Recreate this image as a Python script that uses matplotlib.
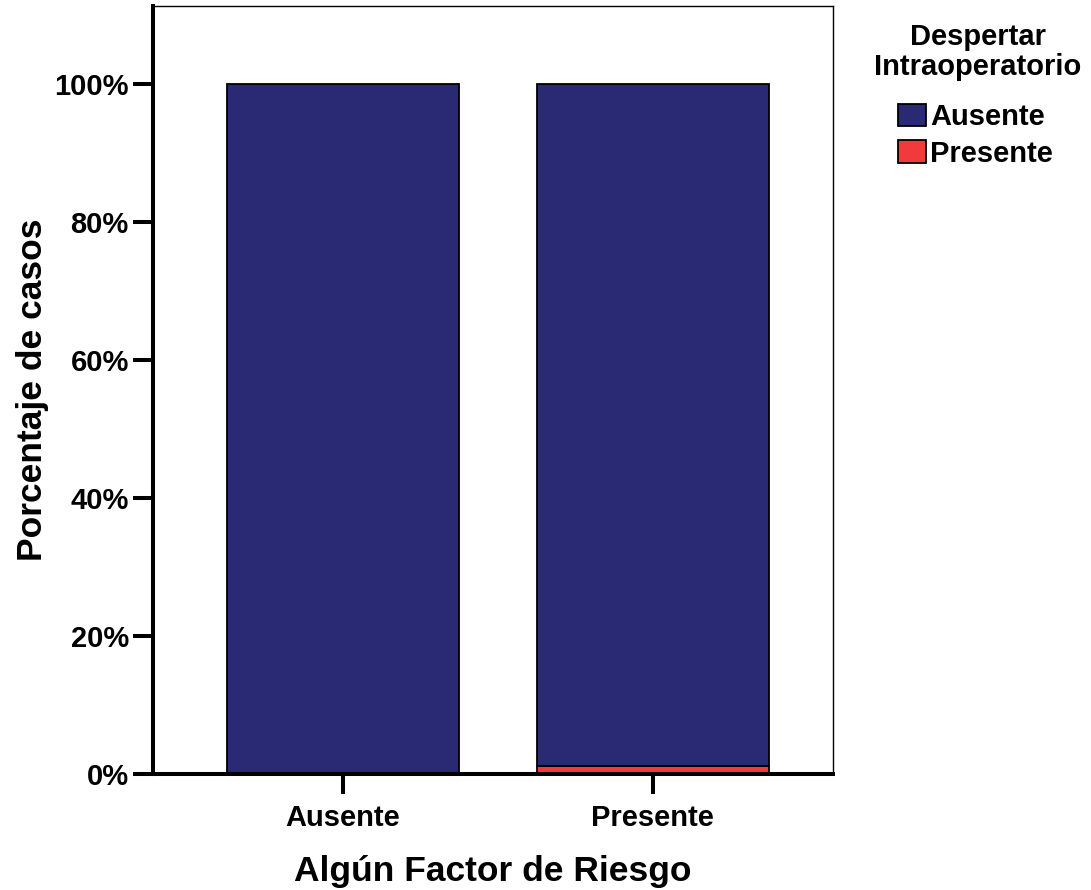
import matplotlib
matplotlib.use("Agg")
import matplotlib.pyplot as plt
import numpy as np

categories = ["Ausente", "Presente"]
ausente_pct = [100.0, 98.8]
presente_pct = [0.0, 1.2]
yticks = [0, 20, 40, 60, 80, 100]
ytick_labels = ["0%", "20%", "40%", "60%", "80%", "100%"]

navy = "#292A73"
red = "#F23A3D"

plt.rcParams['font.family'] = ['Liberation Sans', 'DejaVu Sans']
plt.rcParams['font.weight'] = 'bold'

fig = plt.figure(figsize=(10.91, 8.90), dpi=100)
ax = fig.add_axes([153/1091, 1-774/890, (833-153)/1091, (774-6)/890])

x = np.arange(len(categories))
w = 0.748
ax.bar(x, presente_pct, width=w, color=red, edgecolor="black", linewidth=1.3, label="Presente", zorder=2)
ax.bar(x, ausente_pct, width=w, bottom=presente_pct, color=navy, edgecolor="black", linewidth=1.3, label="Ausente", zorder=2)

ax.set_xlim(-0.613, 1.581)
ax.set_ylim(0, 111.3)
ax.set_xticks(x)
ax.set_xticklabels(categories, fontsize=21, fontweight='bold')
ax.set_yticks(yticks)
ax.set_yticklabels(ytick_labels, fontsize=21, fontweight='bold')
ax.tick_params(axis='both', length=14.4, width=2.9, direction='out', color='black')
ax.tick_params(axis='x', pad=7.5)
ax.tick_params(axis='y', pad=3)

for s in ['left', 'bottom']:
    ax.spines[s].set_linewidth(2.9)
for s in ['top', 'right']:
    ax.spines[s].set_linewidth(1.0)

ax.set_xlabel("Algún Factor de Riesgo", fontsize=25.5, fontweight='bold', labelpad=16)
ax.set_ylabel("Porcentaje de casos", fontsize=25.5, fontweight='bold', labelpad=4)

fig.text(978/1091, 1-52/890, "Despertar\nIntraoperatorio", ha='center', va='center',
         fontsize=21, fontweight='bold', linespacing=1.08)

handles, labels = ax.get_legend_handles_labels()
order = [1, 0]
leg = ax.legend([handles[i] for i in order], [labels[i] for i in order],
                loc='upper left', bbox_to_anchor=(898/1091, 1-103/890), bbox_transform=fig.transFigure,
                frameon=False, fontsize=21, handlelength=0.95, handleheight=0.81,
                handletextpad=0.15, labelspacing=0.3, borderpad=0, borderaxespad=0)
for t in leg.get_texts():
    t.set_fontweight('bold')

fig.savefig("out.png", dpi=100)
